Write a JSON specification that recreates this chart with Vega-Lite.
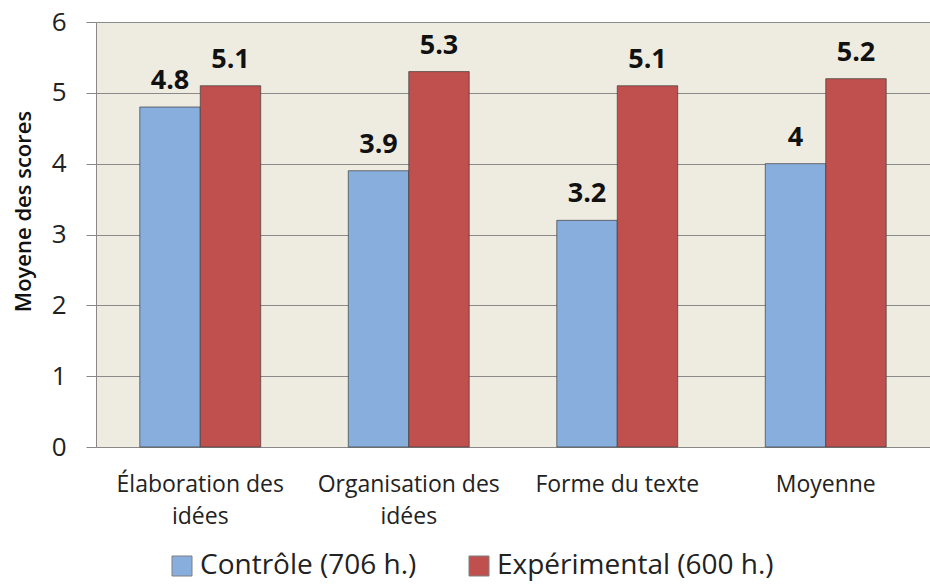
{
  "$schema": "https://vega.github.io/schema/vega-lite/v6.json",
  "width": 834,
  "height": 425,
  "autosize": {"type": "none"},
  "padding": {"left": 96, "top": 22, "right": 0, "bottom": 139},
  "background": "white",
  "config": {
    "font": "Open Sans",
    "view": {"fill": "#EEECE1", "stroke": null}
  },
  "data": {
    "values": [
      {"categorie": "Élaboration des idées", "groupe": "Contrôle (706 h.)", "score": 4.8},
      {"categorie": "Élaboration des idées", "groupe": "Expérimental (600 h.)", "score": 5.1},
      {"categorie": "Organisation des idées", "groupe": "Contrôle (706 h.)", "score": 3.9},
      {"categorie": "Organisation des idées", "groupe": "Expérimental (600 h.)", "score": 5.3},
      {"categorie": "Forme du texte", "groupe": "Contrôle (706 h.)", "score": 3.2},
      {"categorie": "Forme du texte", "groupe": "Expérimental (600 h.)", "score": 5.1},
      {"categorie": "Moyenne", "groupe": "Contrôle (706 h.)", "score": 4},
      {"categorie": "Moyenne", "groupe": "Expérimental (600 h.)", "score": 5.2}
    ]
  },
  "encoding": {
    "x": {
      "field": "categorie",
      "type": "nominal",
      "sort": null,
      "scale": {"paddingInner": 0.42, "paddingOuter": 0.21},
      "axis": {
        "title": null,
        "labelAngle": 0,
        "labelFontSize": 23,
        "labelColor": "#222222",
        "labelPadding": 37,
        "labelLineHeight": 32,
        "labelBaseline": "middle",
        "labelLimit": 400,
        "labelOverlap": false,
        "ticks": false,
        "domain": true,
        "domainColor": "#888888",
        "labelExpr": "datum.value == 'Élaboration des idées' ? ['Élaboration des', 'idées'] : datum.value == 'Organisation des idées' ? ['Organisation des', 'idées'] : datum.value"
      }
    },
    "xOffset": {"field": "groupe", "type": "nominal"},
    "y": {
      "field": "score",
      "type": "quantitative",
      "scale": {"domain": [0, 6], "nice": false},
      "axis": {
        "title": "Moyene des scores",
        "titleFontSize": 22,
        "titleFontWeight": 600,
        "titleColor": "#111111",
        "titleX": -73,
        "titleY": 189,
        "titleAngle": -90,
        "titleAlign": "center",
        "titleBaseline": "middle",
        "values": [0, 1, 2, 3, 4, 5, 6],
        "labelOverlap": false,
        "labelFontSize": 26,
        "labelColor": "#222222",
        "labelPadding": 20,
        "tickSize": 10,
        "tickColor": "#888888",
        "domainColor": "#888888",
        "gridColor": "#8a8a8a",
        "gridOpacity": 1
      }
    }
  },
  "layer": [
    {
      "mark": {"type": "bar", "stroke": "#3d3d3d", "strokeWidth": 1, "strokeOpacity": 0.7},
      "encoding": {
        "color": {
          "field": "groupe",
          "type": "nominal",
          "scale": {"domain": ["Contrôle (706 h.)", "Expérimental (600 h.)"], "range": ["#88AEDD", "#C0504D"]},
          "legend": {
            "title": null,
            "orient": "none",
            "direction": "horizontal",
            "legendX": 72,
            "legendY": 530,
            "symbolType": "square",
            "symbolSize": 400,
            "symbolStrokeColor": "#7f7f7f",
            "symbolStrokeWidth": 1,
            "symbolOpacity": 1,
            "labelFontSize": 28,
            "labelColor": "#222222",
            "labelOffset": 4,
            "columnPadding": 48,
            "labelLimit": 500
          }
        }
      }
    },
    {
      "mark": {"type": "text", "fontSize": 27, "fontWeight": "bold", "dy": -26, "color": "#111111"},
      "encoding": {
        "text": {"field": "score", "type": "quantitative"}
      }
    }
  ]
}
